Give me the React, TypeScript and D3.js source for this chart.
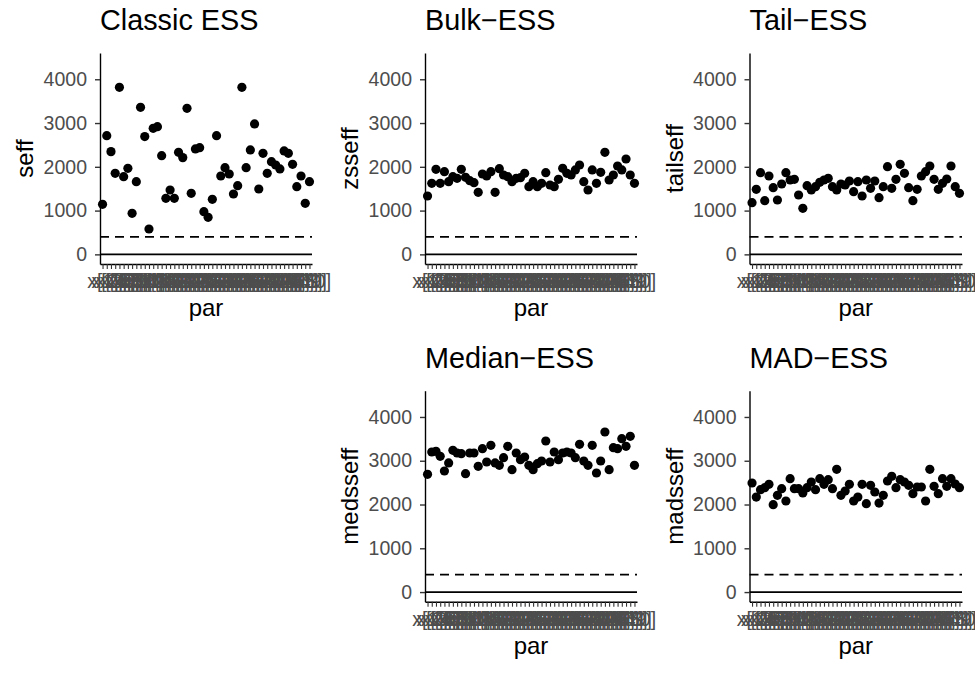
import React, { useEffect, useRef } from "react";
import * as d3 from "d3";

// parameter names on the x axis
const parNames = [
  "x[1]", "x[2]", "x[3]", "x[4]", "x[5]", "x[6]", "x[7]", "x[8]", "x[9]", "x[10]",
  "x[11]", "x[12]", "x[13]", "x[14]", "x[15]", "x[16]", "x[17]", "x[18]", "x[19]", "x[20]",
  "x[21]", "x[22]", "x[23]", "x[24]", "x[25]", "x[26]", "x[27]", "x[28]", "x[29]", "x[30]",
  "x[31]", "x[32]", "x[33]", "x[34]", "x[35]", "x[36]", "x[37]", "x[38]", "x[39]", "x[40]",
  "x[41]", "x[42]", "x[43]", "x[44]", "x[45]", "x[46]", "x[47]", "x[48]", "x[49]", "x[50]",
];

const seff = [
  1143, 2712, 2347, 1851, 3817, 1775, 1966, 937, 1661, 3360,
  2690, 579, 2880, 2918, 2255, 1280, 1470, 1280, 2331, 2210,
  3337, 1394, 2408, 2438, 975, 846, 1257, 2712, 1790, 1981,
  1836, 1379, 1570, 3817, 1981, 2385, 2979, 1493, 2309, 1851,
  2118, 2042, 1951, 2362, 2309, 2057, 1547, 1790, 1166, 1661,
];

const zsseff = [
  1333, 1623, 1943, 1623, 1890, 1661, 1775, 1737, 1943, 1760,
  1684, 1638, 1417, 1836, 1790, 1890, 1417, 1958, 1813, 1775,
  1661, 1737, 1752, 1851, 1547, 1661, 1547, 1623, 1867, 1585,
  1547, 1714, 1966, 1851, 1813, 1928, 2042, 1661, 1470, 1928,
  1623, 1874, 2331, 1699, 1813, 2019, 1928, 2179, 1813, 1623,
];

const tailseff = [
  1181, 1486, 1867, 1227, 1790, 1524, 1242, 1608, 1867, 1699,
  1714, 1356, 1051, 1570, 1470, 1547, 1646, 1699, 1737, 1547,
  1470, 1608, 1585, 1676, 1432, 1661, 1333, 1699, 1509, 1676,
  1295, 1547, 2004, 1509, 1714, 2057, 1851, 1524, 1227, 1486,
  1790, 1890, 2019, 1714, 1486, 1623, 1722, 2019, 1547, 1394,
];

const medsseff = [
  2690, 3200, 3215, 3101, 2766, 2949, 3238, 3177, 3162, 2705,
  3177, 3177, 2872, 3276, 2971, 3352, 2949, 2895, 3070, 3329,
  2796, 3177, 3024, 3086, 2895, 2796, 2933, 2994, 3451, 2971,
  3200, 3024, 3177, 3200, 3177, 3070, 3375, 2994, 2895, 3352,
  2720, 2994, 3657, 2796, 3299, 3276, 3505, 3329, 3558, 2895,
];

const madsseff = [
  2491, 2171, 2339, 2385, 2461, 1996, 2210, 2362, 2080, 2590,
  2362, 2362, 2263, 2385, 2514, 2339, 2590, 2461, 2568, 2362,
  2804, 2210, 2309, 2461, 2080, 2171, 2461, 2019, 2438, 2286,
  2034, 2210, 2537, 2644, 2385, 2568, 2514, 2438, 2248, 2400,
  2400, 2080, 2804, 2415, 2248, 2590, 2415, 2590, 2469, 2385,
];

const yTicks = [0, 1000, 2000, 3000, 4000];
const threshold = 400;

const panels = [
  { title: "Classic ESS", ylab: "seff", values: seff, left: 100, right: 312, row: 0 },
  { title: "Bulk\u2212ESS", ylab: "zsseff", values: zsseff, left: 425, right: 637, row: 0 },
  { title: "Tail\u2212ESS", ylab: "tailseff", values: tailseff, left: 749.5, right: 962, row: 0 },
  { title: "Median\u2212ESS", ylab: "medsseff", values: medsseff, left: 425, right: 637, row: 1 },
  { title: "MAD\u2212ESS", ylab: "madsseff", values: madsseff, left: 749.5, right: 962, row: 1 },
];

const font = "'Liberation Sans', Arial, Helvetica, sans-serif";

const App = () => {
  const ref = useRef<SVGSVGElement>(null);

  useEffect(() => {
    const svg = d3.select(ref.current);
    svg.selectAll("*").remove();

    const rowTop = [53, 390.7];
    const panelH = 211;

    panels.forEach((p) => {
      const top = rowTop[p.row];
      const bottom = top + panelH;

      const x = d3.scalePoint<string>().domain(parNames).range([p.left, p.right]).padding(0.6);
      const y = d3.scaleLinear().domain([-220, 4600]).range([bottom, top]);

      const g = svg.append("g");

      // reference lines
      g.append("line")
        .attr("x1", p.left).attr("x2", p.right)
        .attr("y1", y(threshold)).attr("y2", y(threshold))
        .attr("stroke", "black").attr("stroke-width", 1.8)
        .attr("stroke-dasharray", "9,6");
      g.append("line")
        .attr("x1", p.left).attr("x2", p.right)
        .attr("y1", y(0)).attr("y2", y(0))
        .attr("stroke", "black").attr("stroke-width", 1.8);

      // points
      g.selectAll("circle")
        .data(p.values)
        .join("circle")
        .attr("cx", (d, i) => x(parNames[i]) as number)
        .attr("cy", (d) => y(d))
        .attr("r", 4.6)
        .attr("fill", "black");

      // axes
      const ya = g.append("g")
        .attr("transform", `translate(${p.left},0)`)
        .call(
          d3.axisLeft(y).tickValues(yTicks).tickFormat(d3.format("d"))
            .tickSize(5).tickSizeOuter(0).tickPadding(8)
        );
      ya.select(".domain").attr("stroke", "black").attr("stroke-width", 1.4);
      ya.selectAll(".tick line").attr("stroke", "#333333").attr("stroke-width", 1.4);
      ya.selectAll(".tick text")
        .attr("fill", "#4D4D4D")
        .style("font-family", font)
        .style("font-size", "19.5px");

      const xa = g.append("g")
        .attr("transform", `translate(0,${bottom})`)
        .call(d3.axisBottom(x).tickSize(5).tickSizeOuter(0).tickPadding(5));
      xa.select(".domain").attr("stroke", "black").attr("stroke-width", 1.4);
      xa.selectAll(".tick line").attr("stroke", "#333333").attr("stroke-width", 1.1);
      xa.selectAll(".tick text")
        .attr("fill", "#4D4D4D")
        .style("font-family", font)
        .style("font-size", "19.5px");

      // titles
      g.append("text")
        .attr("x", p.left)
        .attr("y", top - 23)
        .style("font-family", font)
        .style("font-size", "28.8px")
        .attr("fill", "black")
        .text(p.title);

      g.append("text")
        .attr("transform", `translate(${p.left - 67},${(top + bottom) / 2}) rotate(-90)`)
        .attr("text-anchor", "middle")
        .style("font-family", font)
        .style("font-size", "24px")
        .attr("fill", "black")
        .text(p.ylab);

      g.append("text")
        .attr("x", (p.left + p.right) / 2)
        .attr("y", bottom + 52)
        .attr("text-anchor", "middle")
        .style("font-family", font)
        .style("font-size", "24px")
        .attr("fill", "black")
        .text("par");
    });
  }, []);

  return (
    <svg
      ref={ref}
      width={975}
      height={675}
      style={{ position: "absolute", left: 0, top: 0, background: "white" }}
    />
  );
};

export default App;
